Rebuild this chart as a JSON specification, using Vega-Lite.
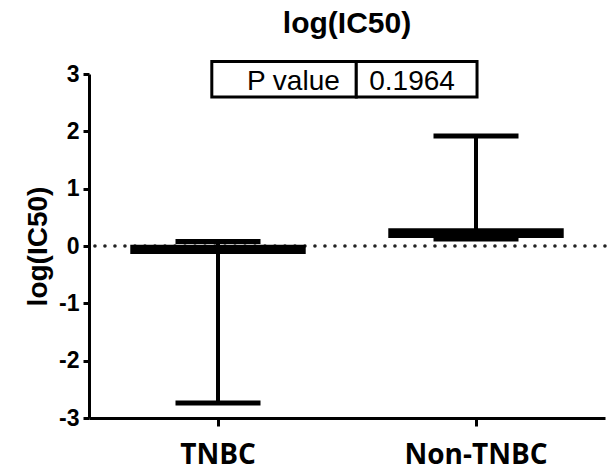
{
  "$schema": "https://vega.github.io/schema/vega-lite/v6.json",
  "width": 516,
  "height": 344,
  "autosize": {"type": "none"},
  "padding": {"left": 89, "top": 74, "right": 5, "bottom": 53},
  "background": "white",
  "title": {"text": "log(IC50)", "font": "Liberation Sans", "fontSize": 30, "fontWeight": "bold", "color": "black", "frame": "group", "anchor": "middle", "offset": 21},
  "config": {"view": {"stroke": null}, "axis": {"grid": false}},
  "datasets": {
    "groups": [
      {"group": "TNBC", "lo": -0.14, "hi": 0.02, "min": -2.74, "max": 0.08},
      {"group": "Non-TNBC", "lo": 0.14, "hi": 0.31, "min": 0.12, "max": 1.92}
    ],
    "cells": [
      {"x1": 0.238, "x2": 0.518, "y1": 2.6, "y2": 3.22},
      {"x1": 0.518, "x2": 0.752, "y1": 2.6, "y2": 3.22}
    ],
    "labels": [
      {"x": 0.486, "y": 2.72, "label": "P value"},
      {"x": 0.626, "y": 2.72, "label": "0.1964"}
    ],
    "zero": [{"y": 0}]
  },
  "layer": [
    {
      "layer": [
        {
          "data": {"name": "zero"},
          "mark": {"type": "rule", "color": "#222", "strokeWidth": 3.5, "strokeDash": [0.1, 9.9], "strokeCap": "round"},
          "encoding": {"y": {"field": "y", "type": "quantitative", "scale": {"domain": [-3, 3], "nice": false}}}
        },
        {
          "data": {"name": "groups"},
          "mark": {"type": "rule", "color": "black", "strokeWidth": 4},
          "encoding": {
            "x": {"field": "group", "type": "nominal", "sort": ["TNBC", "Non-TNBC"], "scale": {"paddingInner": 0.32, "paddingOuter": 0.16},
              "axis": {"title": null, "labelAngle": 0, "labelFont": "Open Sans", "labelFontWeight": "bold", "labelFontSize": 28, "labelColor": "black", "labelPadding": 15, "domainColor": "black", "domainWidth": 3, "tickColor": "black", "tickWidth": 3, "tickSize": 8}},
            "y": {"field": "min", "type": "quantitative", "scale": {"domain": [-3, 3], "nice": false},
              "axis": {"title": "log(IC50)", "values": [-3, -2, -1, 0, 1, 2, 3], "labelExpr": "'' + datum.value", "labelFont": "Liberation Sans", "labelFontWeight": "bold", "labelFontSize": 23, "labelColor": "black", "labelPadding": 4, "domainColor": "black", "domainWidth": 3, "tickColor": "black", "tickWidth": 3, "tickSize": 6, "titleFont": "Liberation Sans", "titleFontWeight": "bold", "titleFontSize": 28, "titleColor": "black", "titlePadding": 6}},
            "y2": {"field": "max"}
          }
        },
        {
          "data": {"name": "groups"},
          "mark": {"type": "bar", "color": "black"},
          "encoding": {
            "x": {"field": "group", "type": "nominal", "sort": ["TNBC", "Non-TNBC"]},
            "y": {"field": "lo", "type": "quantitative"},
            "y2": {"field": "hi"}
          }
        },
        {
          "data": {"name": "groups"},
          "mark": {"type": "tick", "color": "black", "opacity": 1, "size": 85, "thickness": 5, "orient": "horizontal"},
          "encoding": {
            "x": {"field": "group", "type": "nominal", "sort": ["TNBC", "Non-TNBC"]},
            "y": {"field": "min", "type": "quantitative"}
          }
        },
        {
          "data": {"name": "groups"},
          "mark": {"type": "tick", "color": "black", "opacity": 1, "size": 85, "thickness": 5, "orient": "horizontal"},
          "encoding": {
            "x": {"field": "group", "type": "nominal", "sort": ["TNBC", "Non-TNBC"]},
            "y": {"field": "max", "type": "quantitative"}
          }
        }
      ]
    },
    {
      "layer": [
        {
          "data": {"name": "cells"},
          "mark": {"type": "rect", "fill": "white", "stroke": "black", "strokeWidth": 3},
          "encoding": {
            "x": {"field": "x1", "type": "quantitative", "scale": {"domain": [0, 1], "nice": false, "zero": false}, "axis": null},
            "x2": {"field": "x2"},
            "y": {"field": "y1", "type": "quantitative"},
            "y2": {"field": "y2"}
          }
        },
        {
          "data": {"name": "labels"},
          "transform": [{"filter": "datum.label === 'P value'"}],
          "mark": {"type": "text", "font": "Liberation Sans", "fontSize": 28, "color": "black", "baseline": "alphabetic", "align": "right"},
          "encoding": {
            "x": {"field": "x", "type": "quantitative"},
            "y": {"field": "y", "type": "quantitative"},
            "text": {"field": "label"}
          }
        },
        {
          "data": {"name": "labels"},
          "transform": [{"filter": "datum.label !== 'P value'"}],
          "mark": {"type": "text", "font": "Liberation Sans", "fontSize": 28, "color": "black", "baseline": "alphabetic", "align": "center"},
          "encoding": {
            "x": {"field": "x", "type": "quantitative"},
            "y": {"field": "y", "type": "quantitative"},
            "text": {"field": "label"}
          }
        }
      ]
    }
  ],
  "resolve": {"scale": {"x": "independent"}}
}
